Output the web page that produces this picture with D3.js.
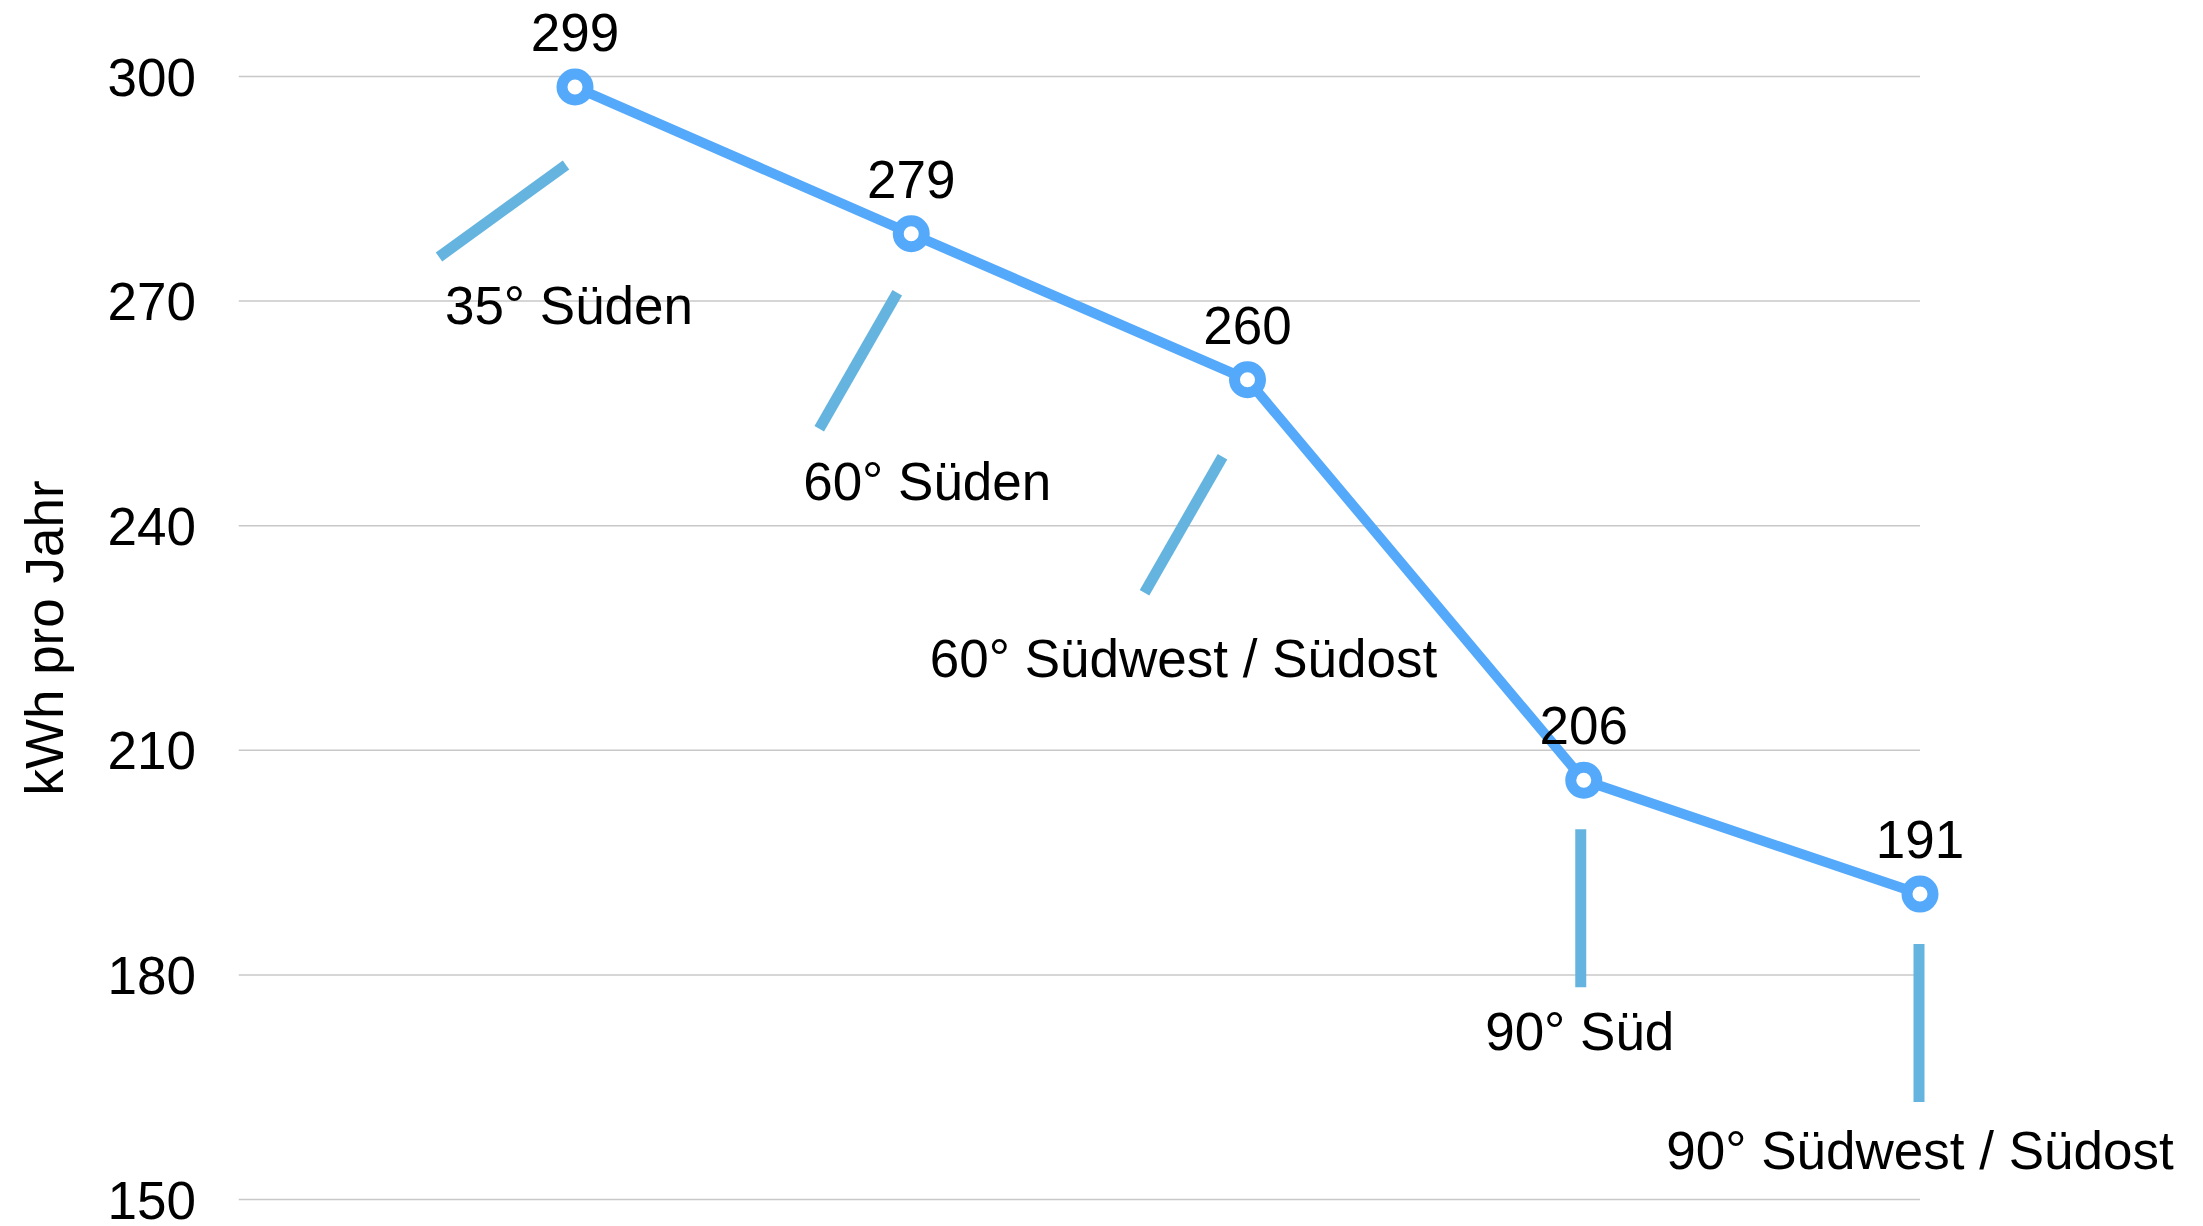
<!DOCTYPE html>
<html>
<head>
<meta charset="utf-8">
<script src="https://cdn.jsdelivr.net/npm/d3@7"></script>
<style>
  body { margin: 0; background: #fff; }
  text { font-family: "Helvetica Neue", Helvetica, "Liberation Sans", Arial, sans-serif; fill: #000; }
</style>
</head>
<body>
<div id="scene"></div>
<script>
// data
const categories = ["35° Süden", "60° Süden", "60° Südwest / Südost", "90° Süd", "90° Südwest / Südost"];
const values = [298.6, 279, 259.5, 206, 190.8];
const yTicks = [150, 180, 210, 240, 270, 300];
const yTitle = "kWh pro Jahr";

// callout offsets relative to each point (leader line start/end, label anchor)
const callouts = [
  { x1: -9,  y1: 78, x2: -136, y2: 170, lx: -6,  ly: 237 },
  { x1: -14, y1: 59, x2: -92,  y2: 195, lx: 16,  ly: 266 },
  { x1: -25, y1: 77, x2: -103, y2: 213, lx: -64, ly: 297 },
  { x1: -3,  y1: 49, x2: -3,   y2: 207, lx: -4,  ly: 270 },
  { x1: -1,  y1: 50, x2: -1,   y2: 208, lx: 0,   ly: 275 }
];

const width = 2203, height = 1226;
const fontSize = 53;

const svg = d3.select("#scene").append("svg")
  .attr("width", width)
  .attr("height", height);

const x = d3.scalePoint().domain(categories).range([575, 1920]);
const y = d3.scaleLinear().domain([150, 300]).range([1199.5, 76.5]);

const gridLeft = x(categories[0]) - x.step();
const gridRight = x(categories[categories.length - 1]);

// gridlines
svg.append("g")
  .selectAll("line")
  .data(yTicks)
  .enter().append("line")
  .attr("x1", gridLeft)
  .attr("x2", gridRight)
  .attr("y1", d => y(d))
  .attr("y2", d => y(d))
  .style("stroke", "#c8c8c8")
  .style("stroke-width", 1.5);

// y axis labels
const yAxis = svg.append("g")
  .attr("transform", "translate(196,0)")
  .call(d3.axisLeft(y).tickValues(yTicks).tickSize(0).tickPadding(0));
yAxis.select(".domain").remove();
yAxis.selectAll("text")
  .attr("x", 0)
  .attr("dy", "0.35em")
  .style("font-size", fontSize + "px")
  .style("font-family", "'Helvetica Neue', Helvetica, 'Liberation Sans', Arial, sans-serif")
  .style("fill", "#000");

svg.append("text")
  .attr("transform", `translate(63, ${(y(150) + y(300)) / 2}) rotate(-90)`)
  .style("text-anchor", "middle")
  .style("font-size", fontSize + "px")
  .text(yTitle);

const points = categories.map((c, i) => ({ cat: c, value: values[i], co: callouts[i] }));

// leader lines + category labels
svg.append("g")
  .selectAll("line")
  .data(points)
  .enter().append("line")
  .attr("x1", d => x(d.cat) + d.co.x1)
  .attr("y1", d => y(d.value) + d.co.y1)
  .attr("x2", d => x(d.cat) + d.co.x2)
  .attr("y2", d => y(d.value) + d.co.y2)
  .style("stroke", "#65b4e0")
  .style("stroke-width", 11);

svg.append("g")
  .selectAll("text")
  .data(points)
  .enter().append("text")
  .attr("x", d => x(d.cat) + d.co.lx)
  .attr("y", d => y(d.value) + d.co.ly)
  .style("text-anchor", "middle")
  .style("font-size", fontSize + "px")
  .text(d => d.cat);

// the line
const line = d3.line()
  .x(d => x(d.cat))
  .y(d => y(d.value));

svg.append("path")
  .datum(points)
  .attr("d", line)
  .style("fill", "none")
  .style("stroke", "#55a9fa")
  .style("stroke-width", 10)
  .style("stroke-linejoin", "round");

svg.append("g")
  .selectAll("circle")
  .data(points)
  .enter().append("circle")
  .attr("cx", d => x(d.cat))
  .attr("cy", d => y(d.value))
  .attr("r", 13)
  .style("fill", "#fff")
  .style("stroke", "#55a9fa")
  .style("stroke-width", 11);

// value labels
svg.append("g")
  .selectAll("text")
  .data(points)
  .enter().append("text")
  .attr("x", d => x(d.cat))
  .attr("y", d => y(d.value) - 36)
  .style("text-anchor", "middle")
  .style("font-size", fontSize + "px")
  .text(d => d3.format(".0f")(d.value));
</script>
</body>
</html>
